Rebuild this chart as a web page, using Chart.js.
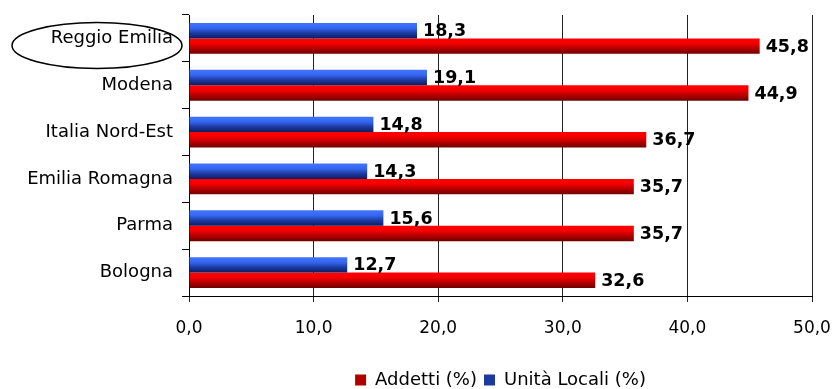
<!DOCTYPE html>
<html>
<head>
<meta charset="utf-8">
<script src="https://cdn.jsdelivr.net/npm/chart.js@4"></script>
<style>
  html, body { margin: 0; padding: 0; background: #fff; }
  #wrap { width: 833px; height: 389px; }
</style>
</head>
<body>
<div id="wrap"><canvas id="myChart"></canvas></div>
<script>
// province / area names, top to bottom
const categories = ["Reggio Emilia", "Modena", "Italia Nord-Est", "Emilia Romagna", "Parma", "Bologna"];
// share of workers (%)
const addetti = [45.8, 44.9, 36.7, 35.7, 35.7, 32.6];
// share of local units (%)
const unitaLocali = [18.3, 19.1, 14.8, 14.3, 15.6, 12.7];
const xTicks = [0, 10, 20, 30, 40, 50];

const FONT = "'DejaVu Sans', Verdana, sans-serif";

function fmt(v) {
    return v.toFixed(1).replace(".", ",");
}

// vertical shading on each bar (light on top, dark at the bottom)
const barShading = {
    id: "barShading",
    beforeDatasetsDraw(chart) {
        const ctx = chart.ctx;
        chart.data.datasets.forEach((ds, i) => {
            const meta = chart.getDatasetMeta(i);
            meta.data.forEach(bar => {
                const { y, height } = bar.getProps(["y", "height"], true);
                const g = ctx.createLinearGradient(0, y - height / 2, 0, y + height / 2);
                ds.shade.forEach((c, k) => g.addColorStop(k / (ds.shade.length - 1), c));
                bar.options.backgroundColor = g;
            });
        });
    }
};

// bold value next to the end of each bar
const valueLabels = {
    id: "valueLabels",
    afterDatasetsDraw(chart) {
        const ctx = chart.ctx;
        ctx.save();
        ctx.font = "bold 17.5px " + FONT;
        ctx.fillStyle = "#000";
        ctx.textBaseline = "middle";
        ctx.textAlign = "left";
        chart.data.datasets.forEach((ds, i) => {
            chart.getDatasetMeta(i).data.forEach((bar, j) => {
                ctx.fillText(fmt(ds.data[j]), bar.x + 6, bar.y + 1);
            });
        });
        ctx.restore();
    }
};

// ellipse around the first category label
const labelRing = {
    id: "labelRing",
    afterDraw(chart) {
        const ctx = chart.ctx;
        const yScale = chart.scales.y;
        const cy = yScale.getPixelForValue(0) + 7;
        ctx.save();
        ctx.beginPath();
        ctx.ellipse(97, cy, 85, 23, 0, 0, Math.PI * 2);
        ctx.lineWidth = 1.5;
        ctx.strokeStyle = "#000";
        ctx.stroke();
        ctx.restore();
    }
};

new Chart(document.getElementById("myChart"), {
    type: "bar",
    data: {
        labels: categories,
        datasets: [
            {
                label: "Unità Locali (%)",
                data: unitaLocali,
                // scriptable so every bar keeps its own options object
                backgroundColor: () => "#2a4fd0",
                shade: ["#4275ff", "#3566f0", "#1c3aa0", "#0e1c60"]
            },
            {
                label: "Addetti (%)",
                data: addetti,
                backgroundColor: () => "#d00000",
                shade: ["#ff0000", "#f20000", "#b00000", "#6e0000"]
            }
        ]
    },
    options: {
        indexAxis: "y",
        responsive: true,
        maintainAspectRatio: false,
        animation: false,
        datasets: {
            bar: { categoryPercentage: 0.66, barPercentage: 1.0 }
        },
        layout: { padding: { top: 15, right: 21, left: 0, bottom: -10 } },
        scales: {
            x: {
                min: 0,
                max: 50,
                afterBuildTicks(scale) {
                    scale.ticks = xTicks.map(v => ({ value: v }));
                },
                afterFit(scale) {
                    scale.height = 68;
                    scale.paddingLeft = 0;
                    scale.paddingRight = 0;
                },
                border: { display: true, color: "#000", width: 1 },
                grid: { color: "#222", lineWidth: 1, tickLength: 6 },
                ticks: {
                    color: "#000",
                    padding: 16,
                    font: { family: FONT, size: 17 },
                    callback: v => fmt(v)
                }
            },
            y: {
                afterFit(scale) {
                    scale.width = 189;
                    scale.paddingTop = 0;
                    scale.paddingBottom = 0;
                },
                border: { display: true, color: "#000", width: 1 },
                grid: { drawOnChartArea: false, color: "#000", tickLength: 7 },
                ticks: {
                    color: "#000",
                    padding: 9,
                    font: { family: FONT, size: 18 }
                }
            }
        },
        plugins: {
            legend: {
                position: "bottom",
                fullSize: false,
                reverse: true,
                labels: {
                    color: "#000",
                    boxWidth: 11,
                    boxHeight: 11,
                    padding: 7,
                    font: { family: FONT, size: 18 },
                    generateLabels(chart) {
                        return chart.data.datasets.map((ds, i) => ({
                            text: ds.label,
                            fillStyle: ds.shade[2],
                            strokeStyle: ds.shade[2],
                            lineWidth: 0,
                            datasetIndex: i,
                            hidden: false
                        }));
                    }
                }
            },
            tooltip: { enabled: false }
        }
    },
    plugins: [barShading, valueLabels, labelRing]
});
</script>
</body>
</html>
